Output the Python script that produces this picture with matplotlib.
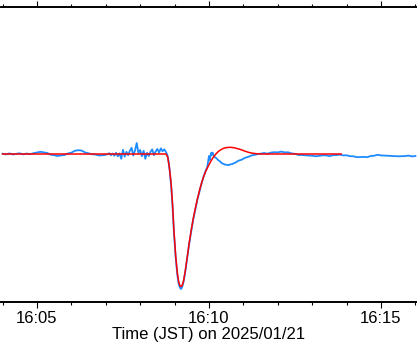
import numpy as np
import matplotlib
matplotlib.use("Agg")
import matplotlib.pyplot as plt
import matplotlib.dates as mdates

# ---- data (minutes after 16:00 JST, deviation in arbitrary units) ----
blue_t = [
    4.00, 4.10, 4.20, 4.30, 4.40, 4.50, 4.60, 4.70, 4.80, 4.90,
    5.00, 5.10, 5.20, 5.30, 5.40, 5.50, 5.60, 5.70, 5.80, 5.90,
    6.00, 6.10, 6.20, 6.30, 6.40, 6.50, 6.60, 6.70, 6.80, 6.90, 7.00,
    7.05, 7.10, 7.15, 7.20, 7.25, 7.30, 7.35, 7.40, 7.45, 7.50,
    7.55, 7.60, 7.65, 7.70, 7.75, 7.80, 7.85, 7.90, 7.95, 8.00,
    8.05, 8.10, 8.15, 8.20, 8.25, 8.30, 8.35, 8.40, 8.45, 8.50,
    8.55, 8.60, 8.65, 8.70, 8.75,
    8.79, 8.82, 8.86, 8.90, 8.94, 8.98, 9.03, 9.08, 9.12, 9.16,
    9.19, 9.22, 9.26, 9.31, 9.36, 9.42, 9.48, 9.54, 9.60, 9.66,
    9.72, 9.78, 9.84, 9.90, 9.95,
    9.98, 10.00, 10.02, 10.04, 10.06, 10.08, 10.10, 10.13, 10.17, 10.22,
    10.27, 10.32, 10.37, 10.42, 10.47, 10.52, 10.57, 10.62, 10.67, 10.72,
    10.77, 10.85, 10.95, 11.05, 11.15, 11.25, 11.35, 11.45,
    11.50, 11.60, 11.70, 11.80, 11.90, 12.00, 12.10, 12.20, 12.30, 12.40,
    12.50, 12.60, 12.70, 12.80, 12.90, 13.00, 13.10, 13.20, 13.30, 13.40,
    13.50, 13.60, 13.70, 13.80, 13.90, 14.00, 14.10, 14.20, 14.30, 14.40,
    14.50, 14.60, 14.70, 14.80, 14.90, 15.00, 15.10, 15.20, 15.30, 15.40,
    15.50, 15.60, 15.70, 15.80, 15.90, 16.00,
]
blue_v = [
    0.3, -0.4, 0.6, -0.5, 0.2, 0.7, -0.4, 0.5, -0.2, 0.8,
    1.5, 2.2, 1.6, 1.0, -0.7, -1.2, -2.0, -1.4, -1.0, 0.5,
    1.3, 3.2, 3.8, 3.4, 1.5, 0.7, -0.3, -0.5, -1.5, -1.3, -0.8,
    -0.2, 0.8, -1.2, 0.5, -1.8, 1.2, -2.3, 0.6, -4.8, 4.2,
    -2.6, 2.2, -1.2, 3.2, 6.2, -1.6, 3.6, 11.0, 0.8, 4.0,
    -2.2, 3.2, -4.8, 1.2, -2.0, 2.2, 4.6, -1.2, 2.6, 5.0,
    1.4, 5.6, 2.8, 4.6, 2.0,
    -1.0, -6.0, -17.0, -32.0, -52.0, -78.0, -103.0, -121.0, -130.0, -134.0,
    -135.0, -133.0, -128.0, -118.0, -106.0, -91.0, -78.0, -66.0, -56.0, -46.0,
    -38.0, -30.0, -23.0, -17.0, -13.0,
    -6.0, -2.0, -6.0, -3.0, 1.0, -1.0, 1.5, -1.0, -3.2, -4.3,
    -6.2, -7.3, -9.2, -9.8, -10.8, -10.7, -11.2, -10.3, -10.2, -9.3,
    -8.6, -6.8, -5.7, -3.8, -2.7, -1.3, -0.7, 0.2,
    0.3, 1.0, 0.3, 1.4, 1.8, 1.6, 2.4, 1.6, 1.7, 0.6,
    0.2, -1.0, -1.0, -1.3, -1.6, -1.7, -2.3, -1.8, -1.4, -1.3,
    -2.2, -1.2, -1.1, -0.6, -1.4, -1.3, -2.2, -2.3, -3.2, -3.0,
    -2.9, -3.2, -2.0, -1.7, -0.8, -1.4, -1.6, -1.7, -2.0, -2.2,
    -2.3, -2.2, -2.1, -1.6, -2.4, -2.0,
]

red_t = [
    4.00, 8.75, 8.80, 8.85, 8.90, 8.94, 8.98, 9.03, 9.08, 9.12,
    9.16, 9.19, 9.22, 9.26, 9.31, 9.36, 9.42, 9.48, 9.54, 9.60,
    9.66, 9.72, 9.78, 9.84, 9.91, 9.98, 10.05, 10.13, 10.20, 10.27,
    10.34, 10.42, 10.50, 10.61, 10.68, 10.76, 10.83, 10.90, 10.98, 11.05,
    11.12, 11.19, 11.26, 11.34, 11.41, 11.48, 11.56, 13.84,
]
red_v = [
    0.0, 0.0, -3.0, -14.0, -30.0, -50.0, -76.0, -101.0, -119.0, -128.0,
    -132.0, -132.5, -131.5, -127.0, -117.0, -105.0, -90.0, -77.0, -65.0, -55.0,
    -45.5, -37.0, -29.5, -23.0, -17.0, -12.0, -7.5, -3.0, 0.0, 2.5,
    4.2, 5.6, 6.4, 6.7, 6.5, 6.0, 5.3, 4.7, 3.7, 2.8,
    2.0, 1.3, 0.8, 0.5, 0.2, 0.0, 0.0, 0.0,
]

x_range = (3.954, 16.047)
y_range = (-148.0, 147.5)
xlabel_text = "Time (JST) on 2025/01/21"

base = np.datetime64("2025-01-21T16:00:00")


def to_time(mins):
    return base + (np.asarray(mins) * 60000).round().astype("timedelta64[ms]")


plt.rcParams["font.family"] = ["Liberation Sans", "DejaVu Sans"]

fig = plt.figure(figsize=(4.17, 3.45), dpi=100)
ax = fig.add_axes([1 / 417, 43 / 345, 416 / 417, 295.5 / 345])

ax.plot(to_time(blue_t), blue_v, color="#1e8cff", lw=1.3, zorder=2)
ax.plot(to_time(red_t), red_v, color="#ff0000", lw=1.1, zorder=3)

ax.set_xlim(to_time(x_range[0]), to_time(x_range[1]))
ax.set_ylim(*y_range)

for s in ("left", "right"):
    ax.spines[s].set_visible(False)
for s in ("top", "bottom"):
    ax.spines[s].set_linewidth(1.4)
    ax.spines[s].set_color("black")

ax.xaxis.set_major_locator(mdates.MinuteLocator(byminute=[5, 10, 15]))
ax.xaxis.set_minor_locator(mdates.MinuteLocator())
ax.xaxis.set_major_formatter(mdates.DateFormatter("%H:%M"))
ax.tick_params(axis="x", which="major", direction="out", length=4.0, width=0.8,
               top=True, bottom=True, labelsize=12, pad=2.5)
ax.tick_params(axis="x", which="minor", direction="out", length=2.2, width=0.8,
               top=True, bottom=True)
ax.set_yticks([])
ax.set_xlabel(xlabel_text, fontsize=12, labelpad=1)

fig.savefig("out.png", dpi=100)
